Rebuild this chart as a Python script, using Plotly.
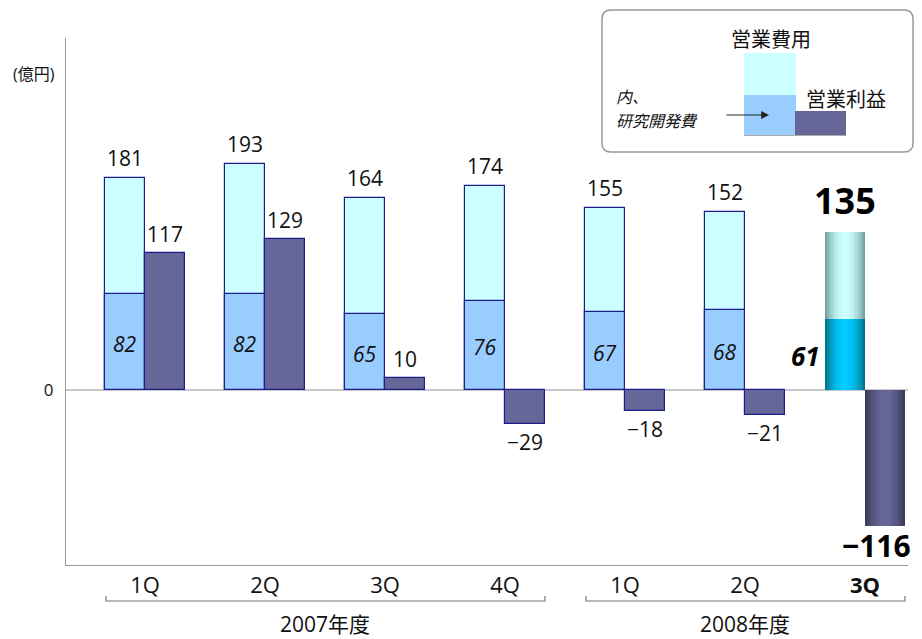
import math
import plotly.graph_objects as go

# ---- data ----
quarters = ["1Q", "2Q", "3Q", "4Q", "1Q", "2Q", "3Q"]
expenses = [181, 193, 164, 174, 155, 152, 135]   # 営業費用
rnd = [82, 82, 65, 76, 67, 68, 61]               # 内、研究開発費
profit = [117, 129, 10, -29, -18, -21, -116]     # 営業利益
years = ["2007年度", "2008年度"]
year_spans = [(0, 3), (4, 6)]
year_centers = [1.5, 5.0]
unit_label = "(億円)"

NUM = "Open Sans, Noto Sans CJK JP"
CJK = "Noto Sans CJK JP"

# page has an 8px body margin: work in screen pixels, convert to figure pixels
O = 8
W, H = 922 - O, 639 - O
PL, PR, PT, PB = 66, 908, 38, 565          # plot area in screen px
L, R, T, B = PL - O, W - (PR - O), PT - O, H - (PB - O)
PW, PH = PR - PL, PB - PT

def px(xs_):
    return (xs_ - PL) / PW

def py(ys_):
    return (PB - ys_) / PH

def fmt(v):
    return str(v) if v >= 0 else "\u2212" + str(-v)

xs = list(range(len(quarters)))
BW = 0.333
n_norm = len(quarters) - 1

fig = go.Figure()
line_navy = dict(color="#1c1c8a", width=1.2)
fig.add_trace(go.Bar(x=xs[:n_norm], y=expenses[:n_norm], width=BW, offset=-BW,
                     marker=dict(color="#ccffff", line=line_navy), hoverinfo="skip"))
fig.add_trace(go.Bar(x=xs[:n_norm], y=rnd[:n_norm], width=BW, offset=-BW,
                     marker=dict(color="#99ccff", line=line_navy), hoverinfo="skip"))
fig.add_trace(go.Bar(x=xs[:n_norm], y=profit[:n_norm], width=BW, offset=0,
                     marker=dict(color="#666699", line=line_navy), hoverinfo="skip"))

# gradient (cylinder) bars for the latest quarter
def mix(c1, c2, f):
    a = [int(c1[i:i + 2], 16) for i in (1, 3, 5)]
    b = [int(c2[i:i + 2], 16) for i in (1, 3, 5)]
    return "#%02x%02x%02x" % tuple(round(a[k] + (b[k] - a[k]) * f) for k in range(3))

N = 20
last = len(quarters) - 1
for vals, base_off, edge, center in [
    (expenses, -BW, "#6a9494", "#ccffff"),
    (rnd, -BW, "#00697e", "#00ccff"),
    (profit, 0.0, "#34344f", "#666699"),
]:
    sw = BW / N
    for k in range(N):
        t = (k + 0.5) / N
        f = math.sin(math.pi * t) ** 0.8
        fig.add_trace(go.Bar(x=[xs[last]], y=[vals[last]], width=BW - k * sw,
                             offset=base_off + k * sw,
                             marker=dict(color=mix(edge, center, f), line=dict(width=0)),
                             hoverinfo="skip"))

ann = []
for i in range(n_norm):
    ann.append(dict(x=xs[i] - BW / 2, y=expenses[i], text=fmt(expenses[i]), showarrow=False,
                    yshift=20, font=dict(family=NUM, size=21, color="#111")))
    ann.append(dict(x=xs[i] - BW / 2, y=rnd[i] / 2, text="<i>" + fmt(rnd[i]) + "</i>", showarrow=False,
                    yshift=-2, font=dict(family=NUM, size=21, color="#111")))
    ann.append(dict(x=xs[i] + BW / 2, y=profit[i], text=fmt(profit[i]), showarrow=False,
                    yshift=19 if profit[i] >= 0 else -18, font=dict(family=NUM, size=21, color="#111")))
ann.append(dict(x=xs[last] - BW / 2, y=expenses[last], text="<b>" + fmt(expenses[last]) + "</b>",
                showarrow=False, yshift=31, font=dict(family=NUM, size=36, color="#000")))
ann.append(dict(x=xs[last] - 0.5, y=rnd[last] / 2, text="<b><i>" + fmt(rnd[last]) + "</i></b>",
                showarrow=False, yshift=-2, font=dict(family=NUM, size=26, color="#000")))

shapes = []
# year brackets
for (a, b), lab, c in zip(year_spans, years, year_centers):
    x0 = a - BW + 0.008
    x1 = b + BW
    y0, y1 = py(596), py(601)
    shapes.append(dict(type="path", xref="x", yref="paper",
                       path=f"M {x0} {y0} L {x0} {y1} L {x1} {y1} L {x1} {y0}",
                       line=dict(color="#777", width=1.2)))
    ann.append(dict(x=c, xref="x", y=py(624), yref="paper", xanchor="center", yanchor="middle",
                    text=lab, showarrow=False, font=dict(family=NUM, size=21, color="#111")))

def pann(xp, yp, text, size, family=CJK, xanchor="center", **kw):
    ann.append(dict(x=px(xp), y=py(yp), xref="paper", yref="paper", text=text,
                    xanchor=xanchor, yanchor="middle", showarrow=False,
                    font=dict(family=family, size=size, color="#111"), **kw))

pann(34, 74, unit_label, 16, family=NUM)
# last quarter profit label (past plot edge -> paper coords)
ann.append(dict(x=px(913), y=py(545), xref="paper", yref="paper", xanchor="right", yanchor="middle",
                text="<b>" + fmt(profit[last]) + "</b>", showarrow=False,
                font=dict(family=NUM, size=30, color="#000")))

# legend box (rounded)
bx0, bx1, by0, by1, rr = 602, 913, 10, 152, 9
def P(a, b):
    return f"{px(a)} {py(b)}"
path = (f"M {P(bx0 + rr, by0)} L {P(bx1 - rr, by0)} Q {P(bx1, by0)} {P(bx1, by0 + rr)} "
        f"L {P(bx1, by1 - rr)} Q {P(bx1, by1)} {P(bx1 - rr, by1)} "
        f"L {P(bx0 + rr, by1)} Q {P(bx0, by1)} {P(bx0, by1 - rr)} "
        f"L {P(bx0, by0 + rr)} Q {P(bx0, by0)} {P(bx0 + rr, by0)} Z")
shapes.append(dict(type="path", xref="paper", yref="paper", path=path,
                   line=dict(color="#999", width=1.5), fillcolor="white"))
def prect(x0, y0, x1, y1, color):
    shapes.append(dict(type="rect", xref="paper", yref="paper", x0=px(x0), x1=px(x1),
                       y0=py(y1), y1=py(y0), fillcolor=color, line=dict(width=0)))
prect(744, 53, 796, 95, "#ccffff")
prect(744, 95, 796, 135, "#99ccff")
prect(795, 111, 846, 135, "#666699")
shapes.append(dict(type="line", xref="paper", yref="paper", x0=px(744), x1=px(846),
                   y0=py(135.5), y1=py(135.5), line=dict(color="#aaa", width=1)))
pann(771, 38, "営業費用", 20)
pann(846, 98, "営業利益", 20)
pann(614, 96, "<i>内、</i>", 16, xanchor="left")
pann(614, 120, "<i>研究開発費</i>", 16, xanchor="left")
ann.append(dict(x=px(769), y=py(115), xref="paper", yref="paper", text="",
                showarrow=True, ax=-44, ay=0, arrowhead=2, arrowsize=1.3, arrowwidth=1.2,
                arrowcolor="#222"))

ticktext = quarters[:-1] + ["<b>" + quarters[-1] + "</b>"]
scale = (390 - 178) / 181
ymin = -(PB - 390) / scale
ymax = (390 - PT) / scale

fig.update_layout(
    width=W, height=H, margin=dict(l=L, r=R, t=T, b=B, pad=0),
    paper_bgcolor="white", plot_bgcolor="white",
    barmode="overlay", bargap=0, showlegend=False,
    font=dict(family=NUM, color="#111"),
    xaxis=dict(range=[(PL - 145) / 120, (PR - 145) / 120], tickvals=xs, ticktext=ticktext,
               showgrid=False, zeroline=False, showline=True, linecolor="#999", linewidth=1.2,
               tickfont=dict(family=NUM, size=22, color="#111"), ticks=""),
    yaxis=dict(range=[ymin, ymax], tickvals=[0], ticktext=["0"], showgrid=False,
               zeroline=True, zerolinecolor="#c8c8c8", zerolinewidth=1.5,
               showline=True, linecolor="#999", linewidth=1.2,
               tickfont=dict(family=NUM, size=17, color="#111"), ticks="", ticklabelstandoff=8),
    annotations=ann, shapes=shapes,
)
fig.write_html("out.html")
